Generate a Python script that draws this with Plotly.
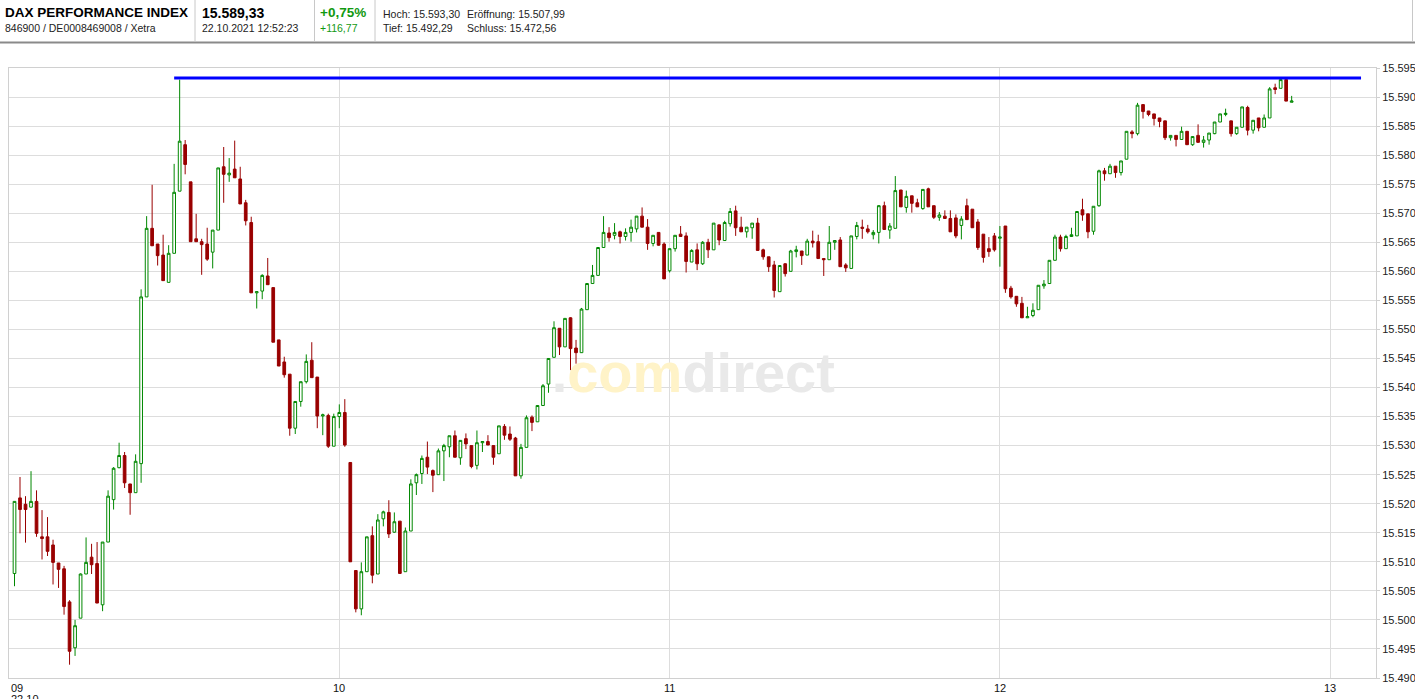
import plotly.graph_objects as go
import pandas as pd

# ---------------- header information ----------------
title = "DAX PERFORMANCE INDEX"
ident = "846900 / DE0008469008 / Xetra"
last_price = "15.589,33"
timestamp = "22.10.2021 12:52:23"
change_pct = "+0,75%"
change_abs = "+116,77"
stat_labels_1 = ["Hoch:", "Eröffnung:"]
stat_values_1 = ["15.593,30", "15.507,99"]
stat_labels_2 = ["Tief:", "Schluss:"]
stat_values_2 = ["15.492,29", "15.472,56"]

day_high = 15593.30
session_date = "2021-10-22"
first_bar = "09:01"
hour_labels = ["09", "10", "11", "12", "13"]
date_label = "22.10"
y_min, y_max, y_step = 15490, 15595, 5

# ---------------- 1-minute OHLC data ----------------
opens = [
    15507.99, 15521.0, 15519.9, 15519.4, 15520.4, 15514.3, 15514.3, 15512.9, 15509.8, 15508.8,
    15503.1, 15495.2, 15500.3, 15507.9, 15510.8, 15509.7, 15502.6, 15513.4, 15520.7, 15526.2,
    15528.3, 15523.4, 15521.9, 15526.9, 15555.6, 15567.4, 15564.7, 15562.8, 15558.1, 15563.1,
    15573.8, 15581.8, 15575.4, 15565.6, 15565.1, 15564.7, 15563.3, 15567.1, 15578.0, 15576.6,
    15577.6, 15575.9, 15571.8, 15568.4, 15556.3, 15556.6, 15559.2, 15557.2, 15548.2, 15544.4,
    15542.3, 15533.0, 15537.6, 15541.0, 15544.7, 15541.8, 15535.1, 15535.2, 15529.9, 15535.0,
    15535.7, 15527.1, 15508.5, 15501.9, 15508.3, 15514.5, 15507.9, 15517.4, 15518.5, 15515.1,
    15517.0, 15508.3, 15515.3, 15523.6, 15525.2, 15528.0, 15525.7, 15525.0, 15529.1, 15529.8,
    15531.7, 15527.9, 15531.2, 15530.0, 15526.6, 15530.5, 15530.7, 15530.0, 15528.6, 15533.3,
    15532.0, 15531.3, 15524.8, 15529.7, 15534.9, 15534.1, 15536.9, 15540.6, 15545.2, 15550.2,
    15547.0, 15552.0, 15546.8, 15546.0, 15553.4, 15557.9, 15559.3, 15564.1, 15566.6, 15566.2,
    15566.8, 15566.0, 15566.7, 15567.3, 15569.5, 15567.6, 15564.8, 15566.7, 15564.7, 15560.1,
    15563.9, 15566.4, 15566.1, 15561.6, 15563.7, 15561.3, 15565.0, 15563.7, 15568.0, 15565.3,
    15568.2, 15570.4, 15567.6, 15566.8, 15567.5, 15568.3, 15563.7, 15562.5, 15561.1, 15556.5,
    15561.3, 15560.0, 15563.4, 15563.5, 15562.8, 15565.2, 15565.1, 15562.2, 15562.0, 15565.0,
    15565.4, 15561.1, 15560.5, 15566.0, 15567.6, 15567.3, 15566.3, 15566.7, 15571.3, 15567.1,
    15567.4, 15574.0, 15571.0, 15573.0, 15571.8, 15570.8, 15574.2, 15571.3, 15569.3, 15569.5,
    15569.1, 15569.2, 15567.9, 15571.3, 15570.7, 15568.5, 15566.4, 15563.9, 15566.1, 15565.7,
    15567.8, 15557.1, 15555.7, 15554.5, 15552.0, 15552.4, 15553.4, 15557.5, 15557.9, 15561.9,
    15565.9, 15563.9, 15566.0, 15566.1, 15570.6, 15569.9, 15566.9, 15571.3, 15577.3, 15576.8,
    15578.1, 15577.0, 15579.3, 15584.0, 15583.7, 15588.7, 15587.6, 15587.1, 15586.4, 15585.9,
    15583.0, 15583.4, 15582.7, 15584.1, 15581.8, 15583.4, 15582.2, 15582.6, 15583.7, 15585.7,
    15587.0, 15585.9, 15583.7, 15584.8, 15588.2, 15584.3, 15586.4, 15584.8, 15586.4, 15591.6,
    15591.5, 15593.0, 15589.1,
]
highs = [
    15520.4, 15524.6, 15521.3, 15525.6, 15522.3, 15518.9, 15517.7, 15513.8, 15509.8, 15509.3,
    15503.4, 15500.0, 15508.0, 15514.2, 15513.1, 15513.4, 15513.4, 15522.3, 15526.3, 15530.5,
    15528.9, 15523.4, 15528.5, 15556.9, 15569.5, 15574.9, 15564.7, 15566.3, 15564.5, 15578.5,
    15593.0, 15582.6, 15575.4, 15569.9, 15565.6, 15567.5, 15567.1, 15577.8, 15581.4, 15579.5,
    15582.5, 15578.0, 15572.3, 15569.4, 15556.5, 15559.5, 15562.3, 15557.2, 15548.2, 15545.3,
    15542.3, 15537.6, 15541.0, 15545.7, 15547.8, 15541.8, 15535.5, 15535.5, 15535.5, 15537.1,
    15538.0, 15527.1, 15508.5, 15509.9, 15514.3, 15516.1, 15518.2, 15518.8, 15520.6, 15518.5,
    15517.0, 15515.9, 15524.2, 15525.2, 15528.3, 15530.7, 15525.9, 15529.5, 15530.3, 15531.7,
    15532.6, 15530.9, 15532.1, 15530.0, 15532.6, 15530.7, 15531.8, 15530.0, 15533.4, 15533.7,
    15533.3, 15531.5, 15530.3, 15535.2, 15535.2, 15536.9, 15540.6, 15545.0, 15551.4, 15550.2,
    15551.9, 15552.1, 15548.2, 15553.7, 15557.9, 15561.1, 15564.1, 15569.5, 15567.6, 15568.3,
    15567.0, 15567.4, 15568.9, 15569.5, 15571.0, 15569.0, 15566.2, 15566.7, 15565.0, 15563.9,
    15566.2, 15567.8, 15566.7, 15563.8, 15564.8, 15565.2, 15565.6, 15568.3, 15568.0, 15568.7,
    15570.9, 15571.3, 15569.4, 15567.6, 15568.3, 15569.2, 15563.9, 15562.5, 15561.8, 15561.0,
    15561.4, 15563.7, 15564.4, 15563.5, 15565.6, 15567.0, 15566.3, 15562.2, 15567.8, 15565.3,
    15565.9, 15561.4, 15566.1, 15568.5, 15568.9, 15568.0, 15567.1, 15571.4, 15572.0, 15568.3,
    15576.4, 15574.0, 15573.9, 15573.0, 15572.5, 15574.1, 15574.4, 15571.3, 15570.2, 15570.5,
    15570.5, 15569.8, 15569.5, 15572.5, 15570.7, 15569.0, 15566.4, 15565.9, 15566.6, 15567.8,
    15567.8, 15557.5, 15555.7, 15555.6, 15553.9, 15554.5, 15557.6, 15558.5, 15561.9, 15566.3,
    15566.3, 15566.3, 15567.5, 15570.3, 15572.5, 15569.9, 15571.2, 15577.5, 15577.8, 15578.5,
    15578.1, 15579.0, 15584.1, 15584.3, 15589.0, 15588.7, 15587.6, 15587.1, 15586.4, 15585.9,
    15583.4, 15583.4, 15584.9, 15584.1, 15583.2, 15585.3, 15583.3, 15583.8, 15585.7, 15587.1,
    15588.0, 15585.9, 15584.8, 15588.3, 15588.5, 15586.0, 15586.4, 15587.0, 15591.7, 15592.3,
    15593.3, 15593.0, 15590.2,
]
lows = [
    15505.8, 15514.9, 15513.3, 15519.4, 15514.3, 15510.4, 15511.0, 15506.1, 15505.5, 15500.9,
    15492.29, 15493.8, 15500.3, 15507.9, 15507.9, 15502.9, 15501.5, 15513.4, 15519.0, 15526.1,
    15522.7, 15518.1, 15521.9, 15523.6, 15555.6, 15564.4, 15561.0, 15558.4, 15558.1, 15563.1,
    15573.8, 15576.7, 15565.1, 15565.1, 15559.4, 15561.8, 15560.5, 15567.1, 15571.8, 15575.4,
    15576.1, 15571.6, 15567.9, 15556.3, 15553.6, 15555.2, 15557.7, 15547.8, 15543.7, 15541.7,
    15531.7, 15532.0, 15536.7, 15540.7, 15541.7, 15533.0, 15531.8, 15529.6, 15529.9, 15533.0,
    15529.8, 15510.0, 15501.3, 15500.8, 15508.3, 15506.3, 15507.9, 15516.1, 15514.1, 15515.0,
    15507.9, 15508.3, 15515.3, 15521.5, 15523.4, 15525.1, 15522.0, 15525.0, 15523.9, 15528.0,
    15528.0, 15526.7, 15529.4, 15526.1, 15525.9, 15528.9, 15530.1, 15526.7, 15528.6, 15531.0,
    15530.8, 15524.8, 15524.3, 15529.7, 15532.5, 15534.1, 15536.9, 15539.1, 15545.2, 15545.6,
    15547.0, 15543.0, 15544.1, 15546.0, 15553.4, 15557.9, 15559.3, 15564.1, 15565.1, 15565.5,
    15564.8, 15565.3, 15565.1, 15566.7, 15567.6, 15563.7, 15564.3, 15564.4, 15558.7, 15559.8,
    15563.4, 15566.0, 15559.8, 15561.6, 15560.2, 15561.1, 15562.3, 15563.7, 15564.5, 15565.3,
    15567.7, 15566.1, 15566.8, 15565.8, 15565.6, 15563.6, 15562.0, 15559.9, 15555.5, 15556.5,
    15559.1, 15560.0, 15562.4, 15561.1, 15562.8, 15564.1, 15562.2, 15559.2, 15562.0, 15563.7,
    15560.8, 15559.9, 15560.5, 15565.5, 15565.6, 15566.5, 15565.5, 15564.8, 15567.2, 15565.6,
    15567.4, 15571.1, 15570.1, 15570.1, 15571.1, 15570.6, 15571.1, 15569.0, 15568.7, 15569.1,
    15566.8, 15565.7, 15565.5, 15568.9, 15567.5, 15563.7, 15561.5, 15562.5, 15563.4, 15560.8,
    15556.3, 15555.3, 15553.9, 15552.0, 15552.0, 15552.1, 15553.4, 15557.0, 15557.9, 15561.9,
    15563.4, 15563.9, 15566.0, 15566.1, 15568.7, 15565.7, 15566.3, 15571.1, 15575.6, 15576.8,
    15576.1, 15576.5, 15579.3, 15582.9, 15583.4, 15586.3, 15586.7, 15585.1, 15584.8, 15582.6,
    15582.5, 15581.5, 15582.7, 15581.8, 15581.6, 15582.2, 15581.3, 15581.8, 15583.6, 15585.7,
    15586.7, 15583.2, 15583.5, 15584.8, 15583.4, 15583.7, 15584.1, 15584.8, 15586.4, 15590.5,
    15591.5, 15589.3, 15589.1,
]
closes = [
    15520.4, 15519.0, 15519.0, 15520.4, 15514.9, 15514.0, 15511.8, 15509.9, 15508.7, 15502.3,
    15494.6, 15499.0, 15507.9, 15509.9, 15509.5, 15502.9, 15513.4, 15521.3, 15526.1, 15528.3,
    15523.6, 15521.9, 15527.3, 15555.6, 15567.4, 15564.4, 15562.7, 15558.4, 15563.1, 15573.6,
    15582.4, 15578.4, 15565.1, 15565.1, 15564.6, 15562.1, 15567.1, 15577.8, 15576.7, 15576.9,
    15576.1, 15571.6, 15568.7, 15556.3, 15556.5, 15559.3, 15557.7, 15547.8, 15543.7, 15542.2,
    15533.0, 15537.6, 15541.0, 15544.5, 15541.7, 15535.1, 15535.3, 15529.9, 15535.0, 15535.7,
    15530.1, 15510.0, 15501.9, 15508.3, 15514.3, 15507.7, 15517.2, 15518.6, 15514.8, 15516.9,
    15508.0, 15515.3, 15523.4, 15525.0, 15527.8, 15526.3, 15524.9, 15529.1, 15530.0, 15531.7,
    15528.0, 15530.9, 15530.3, 15526.4, 15530.5, 15530.7, 15530.1, 15528.0, 15533.4, 15531.8,
    15531.1, 15524.8, 15529.7, 15534.8, 15534.0, 15536.9, 15540.3, 15545.0, 15550.3, 15547.0,
    15551.9, 15546.7, 15546.0, 15553.5, 15557.9, 15559.3, 15564.1, 15566.7, 15565.8, 15566.7,
    15566.0, 15566.7, 15567.6, 15569.5, 15567.6, 15564.8, 15566.2, 15564.5, 15558.7, 15563.9,
    15566.2, 15566.0, 15561.7, 15563.6, 15561.3, 15565.0, 15563.7, 15568.3, 15565.4, 15568.4,
    15570.3, 15567.5, 15566.8, 15567.6, 15568.3, 15563.6, 15562.5, 15560.8, 15556.7, 15561.0,
    15559.6, 15563.5, 15563.7, 15562.7, 15565.2, 15564.9, 15562.2, 15562.0, 15565.0, 15565.3,
    15560.8, 15560.6, 15566.1, 15567.9, 15567.4, 15566.8, 15566.7, 15571.3, 15567.2, 15567.8,
    15573.9, 15571.1, 15572.9, 15571.7, 15571.1, 15574.1, 15571.1, 15569.3, 15569.7, 15569.1,
    15566.8, 15566.1, 15569.0, 15568.9, 15567.5, 15564.1, 15562.4, 15563.4, 15563.7, 15565.9,
    15557.0, 15555.6, 15554.4, 15552.0, 15552.2, 15553.3, 15557.6, 15557.8, 15561.9, 15565.9,
    15563.9, 15566.0, 15566.3, 15570.3, 15569.7, 15566.8, 15571.2, 15577.3, 15576.8, 15578.1,
    15577.0, 15579.0, 15584.1, 15583.7, 15588.6, 15587.5, 15587.0, 15586.3, 15585.8, 15583.0,
    15583.4, 15582.7, 15584.1, 15581.8, 15583.2, 15582.2, 15582.6, 15583.8, 15585.7, 15587.1,
    15587.2, 15583.7, 15584.8, 15588.3, 15584.3, 15586.0, 15584.7, 15586.4, 15591.4, 15591.3,
    15593.0, 15589.3, 15589.33,
]

# ---------------- layout constants ----------------
WIDTH, HEIGHT = 1415, 699
ML, MR, MT, MB = 9, 39, 68, 21
PW, PH = WIDTH - ML - MR, HEIGHT - MT - MB
FONT = "Arial, 'Liberation Sans', sans-serif"
UP = "#008800"
DOWN = "#990000"
GRID = "#dddddd"

times = pd.date_range(f"{session_date} {first_bar}", periods=len(opens), freq="min")
t0 = pd.Timestamp(f"{session_date} 09:00")
x_start = t0
x_end = t0 + pd.Timedelta(minutes=PW / 5.505)
hour_ticks = [t0 + pd.Timedelta(hours=i) for i in range(len(hour_labels))]
hline_start = t0 + pd.Timedelta(minutes=30)
hline_end = t0 + pd.Timedelta(minutes=245.6)
wm_time = t0 + pd.Timedelta(minutes=124.3)
wm_price = 15541.6


def px(xp):
    return (xp - ML) / PW


def py(yp):
    return (MT + PH - yp) / PH


fig = go.Figure()

# watermark (drawn below candles)
fig.add_trace(go.Scatter(
    x=[wm_time], y=[wm_price], mode="text",
    text=["<b>.<span style='color:#fff3c8'>com</span>direct</b>"],
    textfont=dict(family=FONT, size=56, color="#e9e9e9"),
    hoverinfo="skip", showlegend=False,
))

fig.add_trace(go.Candlestick(
    x=times, open=opens, high=highs, low=lows, close=closes,
    increasing=dict(line=dict(color=UP, width=1), fillcolor="#ffffff"),
    decreasing=dict(line=dict(color=DOWN, width=1), fillcolor=DOWN),
    whiskerwidth=0, showlegend=False, hoverinfo="skip",
))

shapes = [
    # day high line
    dict(type="line", xref="x", yref="y", x0=hline_start, x1=hline_end,
         y0=day_high, y1=day_high, line=dict(color="#0000ff", width=3), layer="above"),
    # header bottom rule
    dict(type="line", xref="paper", yref="paper", x0=px(0), x1=px(WIDTH),
         y0=py(42.5), y1=py(42.5), line=dict(color="#8a8a8a", width=2)),
]
for sx in [195, 314.5, 375, 1412.5]:
    shapes.append(dict(type="line", xref="paper", yref="paper", x0=px(sx), x1=px(sx),
                       y0=py(0), y1=py(41.5), line=dict(color="#c8c8c8", width=1)))

annotations = []


def add_text(text, xp, yp, size, color="#222222", bold=False):
    annotations.append(dict(
        text=f"<b>{text}</b>" if bold else text, x=px(xp), y=py(yp),
        xref="paper", yref="paper", xanchor="left", yanchor="middle",
        showarrow=False, font=dict(family=FONT, size=size, color=color)))


add_text(title, 3, 12.5, 13.5, "#000000", bold=True)
add_text(ident, 3, 28.5, 10.5)
add_text(last_price, 199.5, 12.5, 14, "#000000", bold=True)
add_text(timestamp, 199.5, 28.5, 10.5)
add_text(change_pct, 318, 12.5, 13.5, "#119911", bold=True)
add_text(change_abs, 318, 28.5, 10.5, "#119911")
add_text(f"{stat_labels_1[0]} {stat_values_1[0]}", 380.5, 14, 10.5)
add_text(f"{stat_labels_1[1]} {stat_values_1[1]}", 465, 14, 10.5)
add_text(f"{stat_labels_2[0]} {stat_values_2[0]}", 380.5, 28.5, 10.5)
add_text(f"{stat_labels_2[1]} {stat_values_2[1]}", 465, 28.5, 10.5)

# x-axis hour labels
for i, (ht, lab) in enumerate(zip(hour_ticks, hour_labels)):
    annotations.append(dict(
        text=lab, x=ht, y=0, xref="x", yref="paper",
        xanchor="left" if i == 0 else "center", yanchor="top", yshift=-2,
        showarrow=False, font=dict(family=FONT, size=11, color="#111111")))
annotations.append(dict(
    text=date_label, x=hour_ticks[0], y=0, xref="x", yref="paper",
    xanchor="left", yanchor="top", yshift=-13,
    showarrow=False, font=dict(family=FONT, size=11, color="#111111")))

fig.update_layout(
    width=WIDTH, height=HEIGHT, autosize=False,
    margin=dict(l=ML, r=MR, t=MT, b=MB, pad=0, autoexpand=False),
    paper_bgcolor="#ffffff", plot_bgcolor="#ffffff",
    separators=",.",
    shapes=shapes, annotations=annotations,
    showlegend=False, hovermode=False,
    font=dict(family=FONT, size=11, color="#222222"),
)
fig.update_xaxes(
    type="date", range=[x_start, x_end], rangeslider=dict(visible=False),
    tickmode="array", tickvals=hour_ticks, showticklabels=False,
    showgrid=True, gridcolor=GRID, gridwidth=1,
    showline=True, linecolor="#d0d0d0", linewidth=1, mirror=True,
    ticks="", zeroline=False, automargin=False,
)
fig.update_yaxes(
    side="right", range=[y_min, y_max], tick0=y_min, dtick=y_step,
    tickformat=",d", showgrid=True, gridcolor=GRID, gridwidth=1,
    showline=True, linecolor="#d0d0d0", linewidth=1, mirror=True,
    ticks="outside", ticklen=3, tickcolor="#d0d0d0",
    tickfont=dict(family=FONT, size=11, color="#222222"),
    zeroline=False, automargin=False,
)

fig.write_html(
    "out.html",
    config={"displayModeBar": False},
    post_script="document.body.style.margin='0';document.body.style.overflow='hidden';",
)
